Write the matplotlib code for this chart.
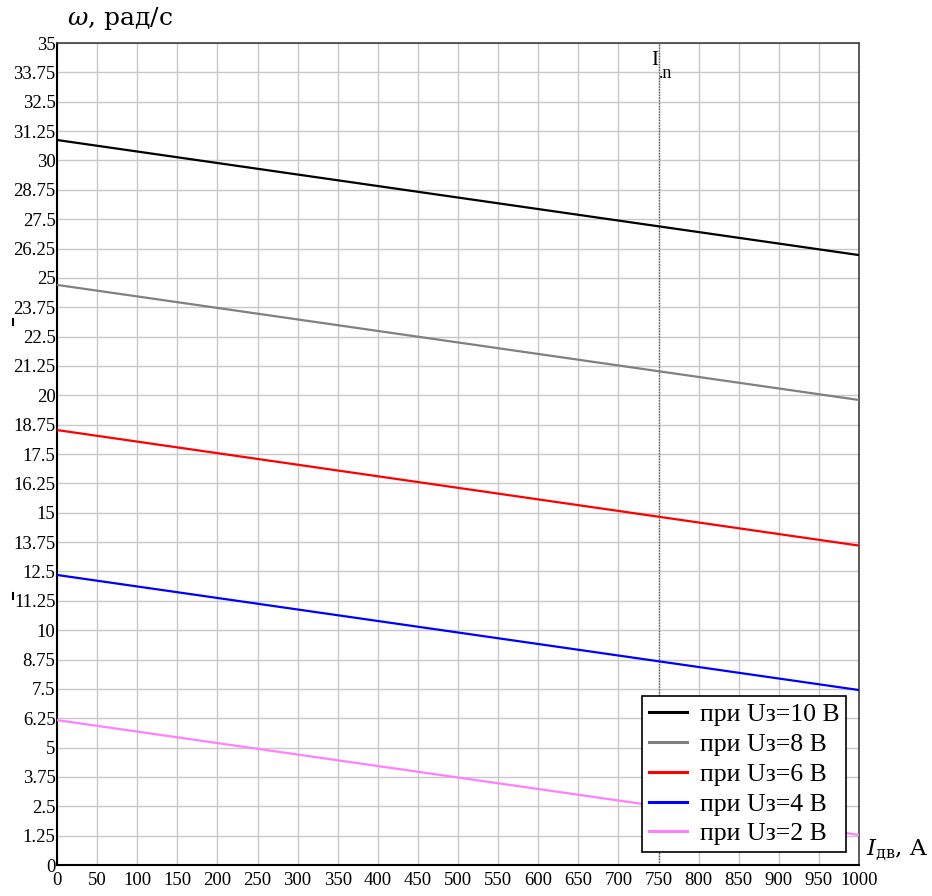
import matplotlib
matplotlib.use("Agg")
import matplotlib.pyplot as plt
from matplotlib.lines import Line2D

plt.rcParams["mathtext.fontset"] = "dejavuserif"

# Data
current = [0, 1000]
series_labels = ["при Uз=10 В", "при Uз=8 В", "при Uз=6 В", "при Uз=4 В", "при Uз=2 В"]
omega_u10 = [30.87, 25.97]
omega_u8 = [24.70, 19.80]
omega_u6 = [18.52, 13.60]
omega_u4 = [12.35, 7.45]
omega_u2 = [6.17, 1.28]
series_colors = ["#000000", "#808080", "#ff0000", "#0000ff", "#ff80ff"]
x_ticks = list(range(0, 1001, 50))
y_ticks = [i * 1.25 for i in range(29)]
i_nom = 750

fig = plt.figure(figsize=(9.32, 8.96), dpi=100)
ax = fig.add_axes([57 / 932, 31 / 896, 802 / 932, 822 / 896])

serif = ["Liberation Serif", "DejaVu Serif"]

for vals, lab, col in zip([omega_u10, omega_u8, omega_u6, omega_u4, omega_u2], series_labels, series_colors):
    ax.plot(current, vals, color=col, lw=1.6, label=lab, zorder=3)

ax.set_xlim(0, 1000)
ax.set_ylim(0, 35)
ax.set_xticks(x_ticks)
ax.set_yticks(y_ticks)
ax.set_xticklabels([str(v) for v in x_ticks], fontfamily=serif, fontsize=13.5)
ax.set_yticklabels([("%g" % v) for v in y_ticks], fontfamily=serif, fontsize=13.5)
ax.tick_params(axis="both", length=0, pad=1)
ax.tick_params(axis="x", pad=5)
ax.grid(True, color="#c8c8c8", lw=1.0, zorder=0)
ax.set_axisbelow(True)

for side in ["top", "right"]:
    ax.spines[side].set_color("#404040")
    ax.spines[side].set_linewidth(1.2)
for side in ["left", "bottom"]:
    ax.spines[side].set_color("#000000")
    ax.spines[side].set_linewidth(1.5)

ax.axvline(i_nom, color="#606060", lw=1.0, ls=(0, (1, 1)), zorder=2)
ax.text(i_nom, 34.65, "I", fontfamily=serif, fontsize=15, ha="right", va="top")
ax.text(i_nom + 1, 34.05, ".n", fontfamily=serif, fontsize=13, ha="left", va="top")

leg = ax.legend(loc="lower right", bbox_to_anchor=(0.984, 0.016), prop={"family": serif, "size": 18.5},
                frameon=True, fancybox=False, edgecolor="#000000", framealpha=1.0,
                handlelength=1.5, handletextpad=0.5, borderpad=0.25, labelspacing=0.27,
                borderaxespad=0.0)
leg.get_frame().set_linewidth(1.2)
for line in leg.get_lines():
    line.set_linewidth(2.2)

fig.text(67 / 932, 1 - 18 / 896, r"$\omega$, рад/с", fontfamily=["DejaVu Serif"], fontsize=18,
         ha="left", va="center")
fig.text(866 / 932, 1 - 850 / 896, r"$I_{\mathrm{дв}}$, A", fontfamily=["DejaVu Serif"], fontsize=16.5,
         ha="left", va="center")

# small stray marks left of the y tick labels
for yp in (322, 596):
    fig.add_artist(Line2D([13 / 932, 13 / 932], [1 - (yp - 3) / 896, 1 - (yp + 3) / 896],
                          color="black", lw=1.5, transform=fig.transFigure))

fig.savefig("out.png", dpi=100)
